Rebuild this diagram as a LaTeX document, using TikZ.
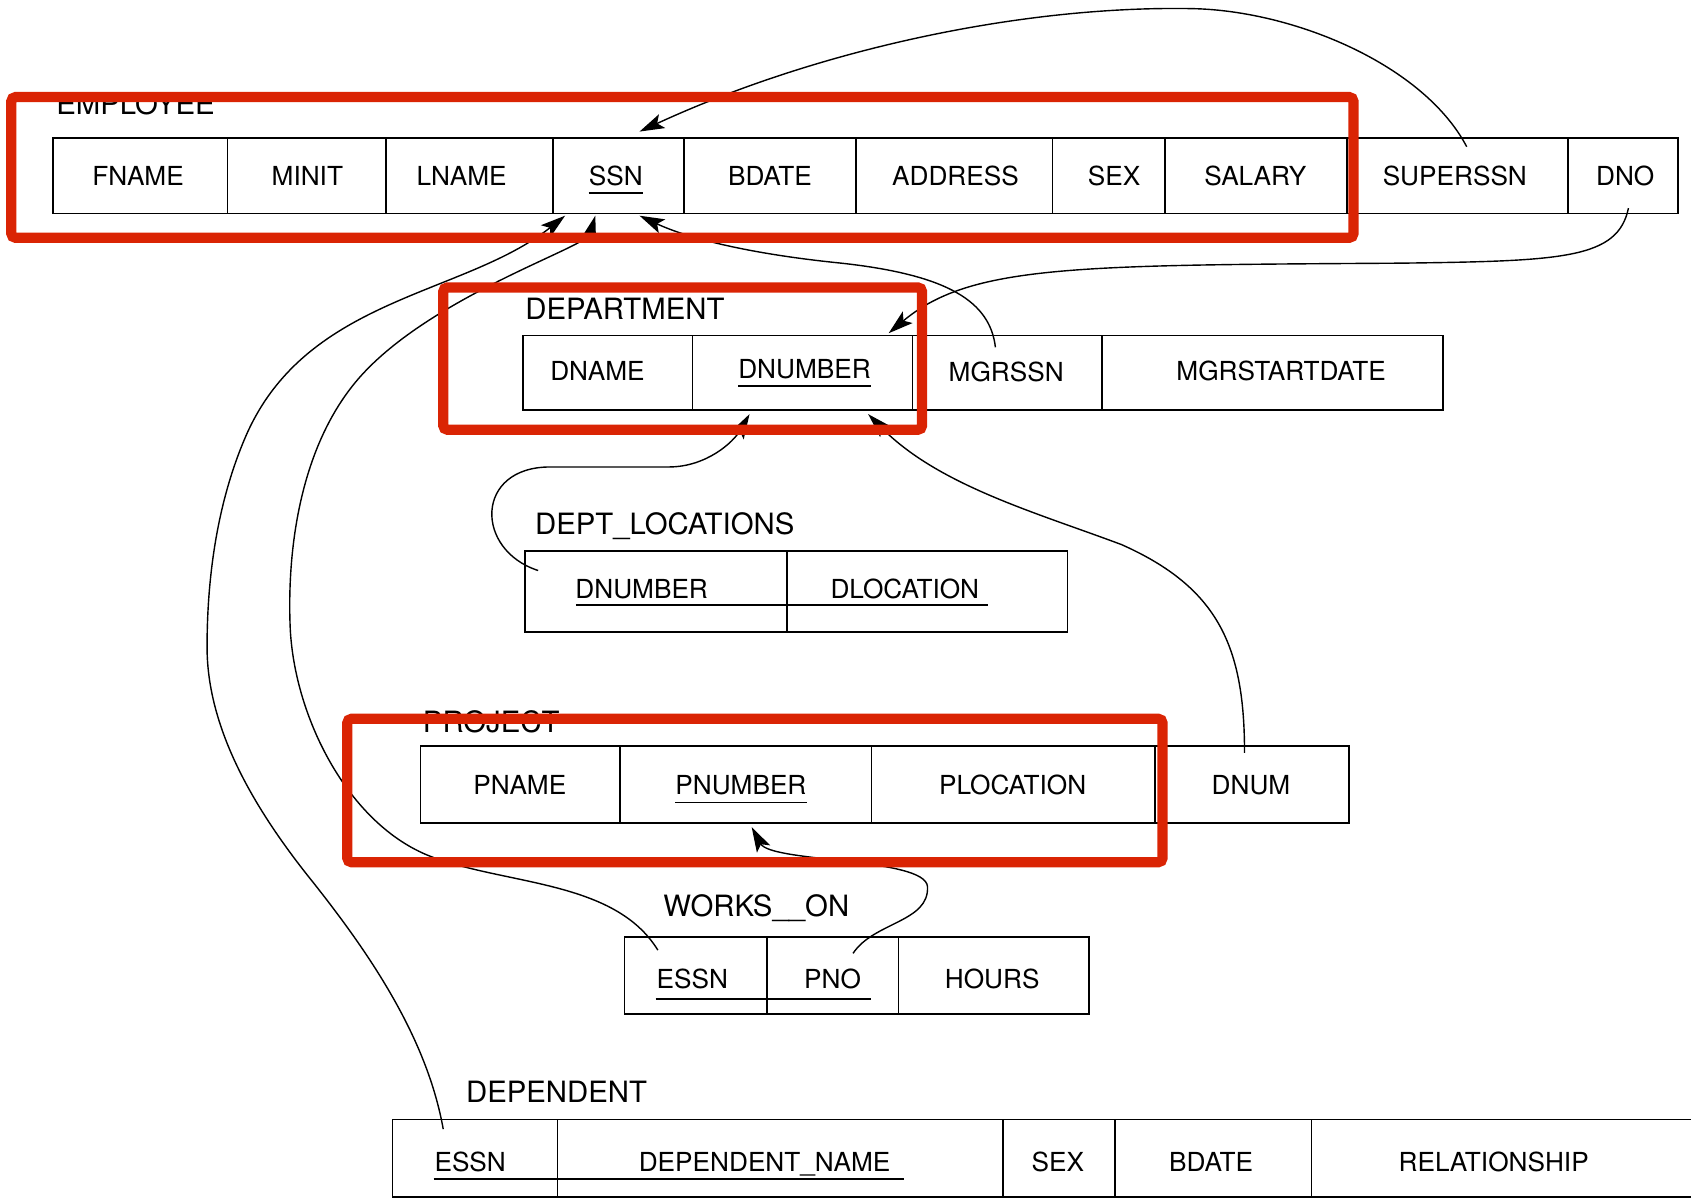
\documentclass[tikz,border=0pt]{standalone}
\usepackage{fontspec}
\setmainfont{TeX Gyre Heros}
\usetikzlibrary{arrows.meta}
\definecolor{hlred}{RGB}{218,36,4}
\newcommand\fldfont{\fontsize{24.3}{28}\selectfont}
\newcommand\ttlfont{\fontsize{27.2}{32}\selectfont}

\begin{document}
\begin{tikzpicture}[x=1pt,y=-1pt,
  tbl/.style={line width=1.5pt},
  fld/.style={font=\fldfont, inner sep=0pt, anchor=base},
  ttl/.style={font=\ttlfont, inner sep=0pt, anchor=base west},
  keyline/.style={line width=1.6pt},
  fk/.style={line width=1.3pt, -{Stealth[length=23pt,width=14pt,inset=5pt]}},
  hl/.style={draw=hlred, line width=9.5pt, rounded corners=4pt},
]
\useasboundingbox (0,0) rectangle (1568,1112);

% ---------- EMPLOYEE ----------
\node[ttl] (employee) at (52,106) {EMPLOYEE};
\draw[tbl] (49,128) rectangle (1556,198);
\foreach \x in {211,358,513,634,794,976,1080,1249,1454} \draw[tbl] (\x,128) -- (\x,198);
\node[fld] (e-fname)    at (128,172)  {FNAME};
\node[fld] (e-minit)    at (285,172)  {MINIT};
\node[fld] (e-lname)    at (428,172)  {LNAME};
\node[fld] (e-ssn)      at (571,172)  {SSN};
\node[fld] (e-bdate)    at (714,172)  {BDATE};
\node[fld] (e-address)  at (886,172)  {ADDRESS};
\node[fld] (e-sex)      at (1033,172) {SEX};
\node[fld] (e-salary)   at (1164,172) {SALARY};
\node[fld] (e-superssn) at (1349,172) {SUPERSSN};
\node[fld] (e-dno)      at (1507,172) {DNO};
\draw[keyline] ([yshift=-7pt]e-ssn.base west) -- ([yshift=-7pt]e-ssn.base east);

% ---------- DEPARTMENT ----------
\node[ttl] (department) at (487,296) {DEPARTMENT};
\draw[tbl] (485,311) rectangle (1338,380);
\foreach \x in {642,846,1022} \draw[tbl] (\x,311) -- (\x,380);
\node[fld] (d-dname)   at (554,353)  {DNAME};
\node[fld] (d-dnumber) at (746,351)  {DNUMBER};
\node[fld] (d-mgrssn)  at (933,354)  {MGRSSN};
\node[fld] (d-mgrdate) at (1188,353) {MGRSTARTDATE};
\draw[keyline] ([yshift=-7pt]d-dnumber.base west) -- ([yshift=-7pt]d-dnumber.base east);

% ---------- DEPT_LOCATIONS ----------
\node[ttl] (deptloc) at (496,496) {DEPT\_LOCATIONS};
\draw[tbl] (487,511) rectangle (990,586);
\draw[tbl] (730,511) -- (730,586);
\node[fld] (l-dnumber)   at (595,555) {DNUMBER};
\node[fld] (l-dlocation) at (839,555) {DLOCATION};
\draw[keyline] (534,561) -- (916,561);

% ---------- PROJECT ----------
\node[ttl] (project) at (392,679) {PROJECT};
\draw[tbl] (390,692) rectangle (1251,763);
\foreach \x in {575,808,1071} \draw[tbl] (\x,692) -- (\x,763);
\node[fld] (p-pname)     at (482,737)  {PNAME};
\node[fld] (p-pnumber)   at (687,737)  {PNUMBER};
\node[fld] (p-plocation) at (939,737)  {PLOCATION};
\node[fld] (p-dnum)      at (1160,737) {DNUM};
\draw[keyline] ([yshift=-7pt]p-pnumber.base west) -- ([yshift=-7pt]p-pnumber.base east);

% ---------- WORKS_ON ----------
\node[ttl] (workson) at (615,850) {WORKS\_\_ON};
\draw[tbl] (579,869) rectangle (1010,940);
\foreach \x in {711,833} \draw[tbl] (\x,869) -- (\x,940);
\node[fld] (w-essn)  at (642,917) {ESSN};
\node[fld] (w-pno)   at (772,917) {PNO};
\node[fld] (w-hours) at (920,917) {HOURS};
\draw[keyline] (608,926) -- (808,926);

% ---------- DEPENDENT ----------
\node[ttl] (dependent) at (432,1022) {DEPENDENT};
\draw[tbl] (1580,1038) -- (364,1038) -- (364,1110) -- (1580,1110);
\foreach \x in {517,930,1034,1216} \draw[tbl] (\x,1038) -- (\x,1110);
\node[fld] (t-essn)  at (436,1086)  {ESSN};
\node[fld] (t-name)  at (709,1086)  {DEPENDENT\_NAME};
\node[fld] (t-sex)   at (981,1086)  {SEX};
\node[fld] (t-bdate) at (1123,1086) {BDATE};
\node[fld] (t-rel)   at (1385,1086) {RELATIONSHIP};
\draw[keyline] (402,1093) -- (838,1093);

% ---------- connector ends ----------
\coordinate (superssn-out) at (1360,136);
\coordinate (dno-out)      at (1510,193);
\coordinate (mgrssn-out)   at (923,322);
\coordinate (dl-out)       at (499,529);
\coordinate (dnum-out)     at (1154,698);
\coordinate (w-essn-out)   at (610,881);
\coordinate (w-pno-out)    at (791,884);
\coordinate (t-essn-out)   at (411,1047);
\coordinate (ssn-top)      at (593,122);
\coordinate (ssn-in1)      at (524,200);
\coordinate (ssn-in2)      at (552,200);
\coordinate (ssn-in3)      at (593,200);
\coordinate (dnumber-top)  at (824,309);
\coordinate (dnumber-in1)  at (695,384);
\coordinate (dnumber-in2)  at (805,384);
\coordinate (pnumber-in)   at (697,767);

% ---------- foreign keys ----------
\draw[fk] (superssn-out) .. controls (1320,60) and (1200,10) .. (1106,8)
                         .. controls (950,5) and (760,45) .. (ssn-top);
\draw[fk] (dno-out) .. controls (1500,240) and (1450,242) .. (1300,244)
                    .. controls (1000,246) and (900,245) .. (dnumber-top);
\draw[fk] (mgrssn-out) .. controls (918,280) and (880,255) .. (780,244)
                       .. controls (700,236) and (640,222) .. (ssn-in3);
\draw[fk] (w-essn-out) .. controls (570,816) and (470,821) .. (399,794)
                       .. controls (322,764) and (272,663) .. (269,580)
                       .. controls (266,499) and (282,405) .. (337,346)
                       .. controls (405,273) and (544,229) .. (ssn-in2);
\draw[fk] (t-essn-out) .. controls (396,963) and (344,886) .. (291,819)
                       .. controls (241,757) and (192,680) .. (192,600)
                       .. controls (192,533) and (202,463) .. (229,402)
                       .. controls (286,275) and (431,274) .. (ssn-in1);
\draw[fk] (dl-out) .. controls (440,510) and (440,433) .. (510,433) -- (620,433)
                   .. controls (655,433) and (680,410) .. (dnumber-in1);
\draw[fk] (dnum-out) .. controls (1154,600) and (1130,545) .. (1040,505)
                     .. controls (960,475) and (870,450) .. (dnumber-in2);
\draw[fk] (w-pno-out) .. controls (810,855) and (862,855) .. (860,822)
                      .. controls (858,795) and (715,800) .. (pnumber-in);

% ---------- highlight frames ----------
\draw[hl] (10.5,90) rectangle (1255,220.5);
\draw[hl] (411,266.5) rectangle (855,398.5);
\draw[hl] (322,666.5) rectangle (1078,799.5);
\end{tikzpicture}
\end{document}
